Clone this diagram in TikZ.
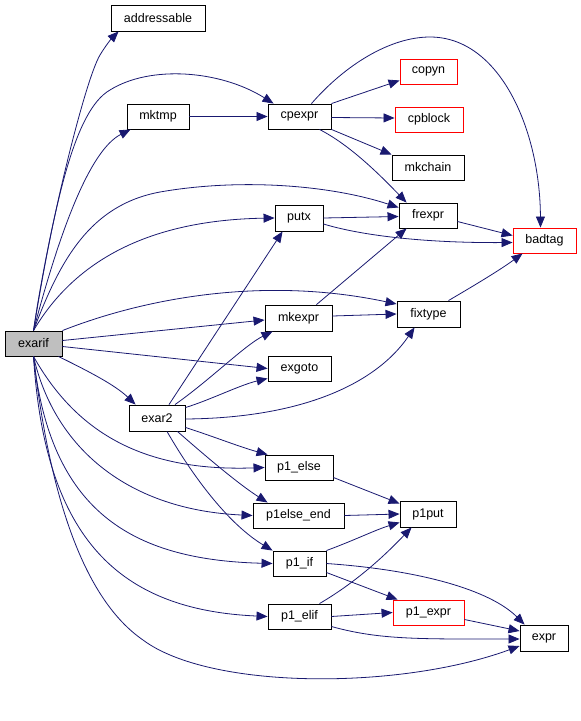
\documentclass[tikz,border=0pt]{standalone}
\usepackage{fontspec}
\setmainfont{Liberation Sans}
\usetikzlibrary{arrows.meta,calc}
\definecolor{navy}{RGB}{25,25,112}
\definecolor{redbox}{RGB}{255,0,0}
\definecolor{grayfill}{RGB}{191,191,191}
\begin{document}
\begin{tikzpicture}[x=1pt,y=-1pt,
  fn/.style={draw=black,line width=0.9pt,fill=white,inner sep=0pt,font=\fontsize{12.5}{14}\selectfont},
  ext/.style={fn,draw=redbox},
  root/.style={fn,fill=grayfill},
  e/.style={draw=navy,line width=0.8pt,-{Triangle[length=11pt,width=9pt]}}]
\useasboundingbox (0,0) rectangle (581,721);
% nodes
\node[fn,minimum width=94pt,minimum height=26pt] (addressable) at (158,18) {addressable};
\node[fn,minimum width=62pt,minimum height=25pt] (mktmp) at (158,116.5) {mktmp};
\node[fn,minimum width=63pt,minimum height=25pt] (cpexpr) at (299.5,116.5) {cpexpr};
\node[ext,minimum width=57pt,minimum height=25pt] (copyn) at (428.5,71.5) {copyn};
\node[ext,minimum width=68pt,minimum height=25pt] (cpblock) at (429,119.5) {cpblock};
\node[fn,minimum width=72pt,minimum height=25pt] (mkchain) at (428,167.5) {mkchain};
\node[fn,minimum width=58pt,minimum height=25pt] (frexpr) at (428,215.5) {frexpr};
\node[fn,minimum width=48pt,minimum height=26pt] (putx) at (299,218) {putx};
\node[ext,minimum width=63pt,minimum height=25pt] (badtag) at (544.5,240.5) {badtag};
\node[root,minimum width=57pt,minimum height=25pt] (exarif) at (33.5,343.5) {exarif};
\node[fn,minimum width=67pt,minimum height=26pt] (mkexpr) at (298.5,318) {mkexpr};
\node[fn,minimum width=63pt,minimum height=26pt] (fixtype) at (428.5,314) {fixtype};
\node[fn,minimum width=63pt,minimum height=25pt] (exgoto) at (299.5,368.5) {exgoto};
\node[fn,minimum width=56pt,minimum height=26pt] (exar2) at (157,418) {exar2};
\node[fn,minimum width=68pt,minimum height=25pt] (p1else) at (299,467.5) {p1\_else};
\node[fn,minimum width=91pt,minimum height=25pt] (p1elseend) at (298.5,515.5) {p1else\_end};
\node[fn,minimum width=56pt,minimum height=26pt] (p1put) at (428,514) {p1put};
\node[fn,minimum width=53pt,minimum height=25pt] (p1if) at (299.5,563.5) {p1\_if};
\node[fn,minimum width=63pt,minimum height=25pt] (p1elif) at (299.5,616.5) {p1\_elif};
\node[ext,minimum width=71pt,minimum height=25pt] (p1expr) at (428.5,612.5) {p1\_expr};
\node[fn,minimum width=48pt,minimum height=26pt] (expr) at (544,638) {expr};
% edges from exarif
\draw[e] (exarif.north) .. controls (48,230) and (85,80) .. (100,55) .. controls (106,45) and (112,38) .. ($(addressable.south west)+(8,0)$);
\draw[e] (exarif.north) .. controls (55,200) and (75,110) .. (110,90) .. controls (150,65) and (220,70) .. ($(cpexpr.north west)+(6,0)$);
\draw[e] (exarif.north) .. controls (60,230) and (90,150) .. ($(mktmp.south west)+(4,0)$);
\draw[e] (exarif.north) .. controls (60,260) and (90,205) .. (160,192) .. controls (240,178) and (330,185) .. ($(frexpr.west)+(0,-8)$);
\draw[e] (exarif.north) .. controls (75,260) and (150,220) .. (putx.west);
\draw[e] (exarif.north east) .. controls (140,300) and (260,275) .. ($(fixtype.west)+(0,-10)$);
\draw[e] ($(exarif.east)+(0,-3)$) -- ($(mkexpr.west)+(0,2)$);
\draw[e] ($(exarif.east)+(0,3)$) -- (exgoto.west);
\draw[e] ($(exarif.south east)+(-4,0)$) .. controls (90,372) and (115,385) .. ($(exar2.north west)+(7,0)$);
\draw[e] (exarif.south) .. controls (75,430) and (140,472) .. (p1else.west);
\draw[e] (exarif.south) .. controls (55,450) and (130,510) .. (p1elseend.west);
\draw[e] (exarif.south) .. controls (50,510) and (130,560) .. (p1if.west);
\draw[e] (exarif.south) .. controls (45,540) and (120,610) .. (p1elif.west);
\draw[e] (exarif.south) .. controls (50,500) and (85,600) .. (143,640) .. controls (210,690) and (400,690) .. ($(expr.west)+(0,8)$);
% exar2
\draw[e] ($(exar2.north)+(12,0)$) -- ($(putx.south west)+(8,0)$);
\draw[e] ($(exar2.north)+(18,0)$) .. controls (210,380) and (245,345) .. ($(mkexpr.south west)+(8,0)$);
\draw[e] ($(exar2.north east)+(0,3)$) .. controls (210,400) and (240,385) .. ($(exgoto.south west)+(0,-3)$);
\draw[e] ($(exar2.east)+(0,1)$) .. controls (300,418) and (375,385) .. ($(fixtype.south west)+(18,0)$);
\draw[e] ($(exar2.south east)+(0,-4)$) .. controls (215,437) and (240,447) .. ($(p1else.north west)+(3,0)$);
\draw[e] ($(exar2.south east)+(-8,0)$) .. controls (210,460) and (240,485) .. ($(p1elseend.north west)+(15,0)$);
\draw[e] ($(exar2.south)+(10,0)$) .. controls (195,480) and (230,525) .. (p1if.north west);
% top cluster
\draw[e] (mktmp) -- (cpexpr);
\draw[e] (cpexpr.north east) -- ($(copyn.south west)+(0,-4)$);
\draw[e] ($(cpexpr.east)+(0,1)$) -- ($(cpblock.west)+(0,-1.5)$);
\draw[e] (cpexpr.south east) -- (mkchain.north west);
\draw[e] ($(cpexpr.south east)+(-12,0)$) .. controls (350,145) and (380,175) .. ($(frexpr.north west)+(8,0)$);
\draw[e] ($(cpexpr.north)+(12,0)$) .. controls (345,65) and (390,37) .. (430,37) .. controls (500,37) and (540,130) .. ($(badtag.north)+(-4,0)$);
\draw[e] (putx.east) -- ($(frexpr.west)+(0,1)$);
\draw[e] ($(putx.east)+(0,6)$) .. controls (370,238) and (440,243) .. ($(badtag.west)+(0,2)$);
\draw[e] ($(frexpr.east)+(0,6)$) -- ($(badtag.west)+(0,-5)$);
\draw[e] ($(mkexpr.north)+(18,0)$) -- ($(frexpr.south west)+(8,0)$);
\draw[e] ($(mkexpr.east)+(0,-2)$) -- (fixtype.west);
\draw[e] ($(fixtype.north)+(20,0)$) .. controls (475,285) and (500,270) .. ($(badtag.south west)+(10,0)$);
% bottom cluster
\draw[e] ($(p1else.east)+(0,10)$) -- ($(p1put.north west)+(0,3)$);
\draw[e] (p1elseend.east) -- (p1put.west);
\draw[e] (p1if.north east) .. controls (355,540) and (375,530) .. ($(p1put.south west)+(0,-5)$);
\draw[e] ($(p1elif.north)+(20,0)$) .. controls (360,580) and (390,550) .. ($(p1put.south west)+(12,0)$);
\draw[e] ($(p1if.east)+(0,9)$) -- ($(p1expr.north west)+(5,0)$);
\draw[e] (p1if.east) .. controls (420,570) and (490,590) .. ($(expr.north west)+(5,0)$);
\draw[e] (p1elif.east) -- (p1expr.west);
\draw[e] ($(p1elif.east)+(0,10)$) .. controls (380,640) and (420,639) .. ($(expr.west)+(0,1)$);
\draw[e] ($(p1expr.east)+(0,7)$) -- ($(expr.west)+(0,-7)$);
\end{tikzpicture}
\end{document}
